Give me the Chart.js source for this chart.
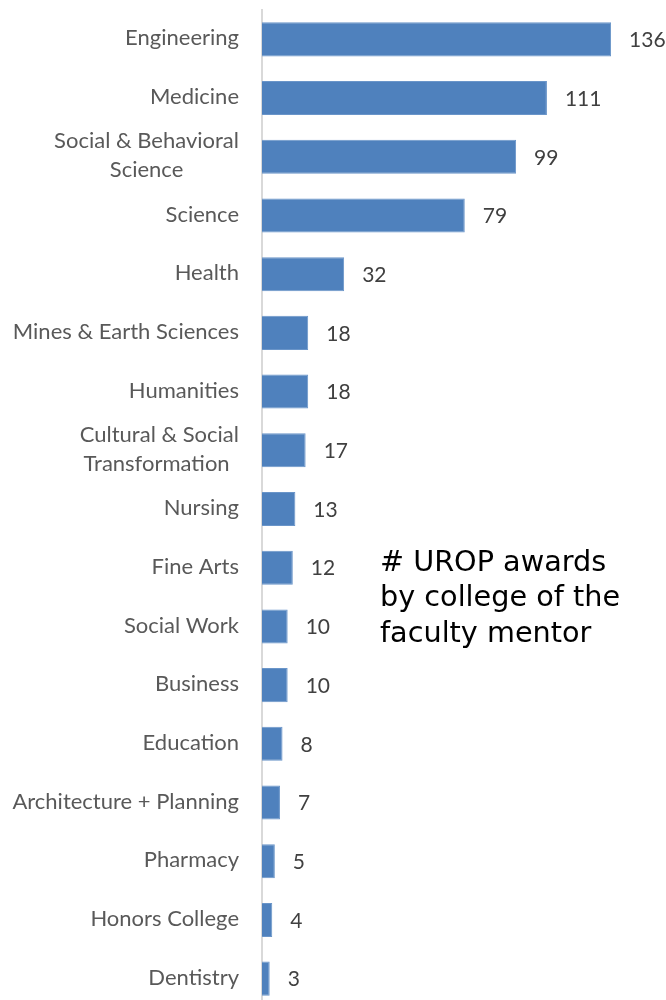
<!DOCTYPE html>
<html>
<head>
<meta charset="utf-8">
<script src="https://cdn.jsdelivr.net/npm/chart.js@4/dist/chart.umd.min.js"></script>
<style>
  html, body { margin: 0; padding: 0; background: #fff; overflow: hidden; }
  #wrap { width: 666px; height: 1008px; position: relative; }
</style>
</head>
<body>
<div id="wrap"><canvas id="awardsChart"></canvas></div>
<script>
// colleges, top to bottom
const colleges = [
  'Engineering', 'Medicine', ['Social & Behavioral', 'Science'], 'Science', 'Health',
  'Mines & Earth Sciences', 'Humanities', ['Cultural & Social', 'Transformation '],
  'Nursing', 'Fine Arts', 'Social Work', 'Business', 'Education',
  'Architecture + Planning', 'Pharmacy', 'Honors College', 'Dentistry'
];
const awards = [136, 111, 99, 79, 32, 18, 18, 17, 13, 12, 10, 10, 8, 7, 5, 4, 3];
const noteLines = ['# UROP awards', 'by college of the', 'faculty mentor'];

const labelFont = '22px Lato, "Open Sans", sans-serif';
const valueFont = '21px Lato, "Open Sans", sans-serif';

// category labels: block right-aligned, multi-line centred inside the block
const categoryLabels = {
  id: 'categoryLabels',
  afterDraw(chart) {
    const ctx = chart.ctx;
    const y = chart.scales.y;
    ctx.save();
    ctx.font = labelFont;
    ctx.fillStyle = '#595959';
    ctx.textBaseline = 'middle';
    ctx.textAlign = 'center';
    colleges.forEach((lab, i) => {
      const lines = Array.isArray(lab) ? lab : [lab];
      const w = Math.max(...lines.map(l => ctx.measureText(l).width));
      const cx = 239 - w / 2;
      const cy = y.getPixelForValue(i);
      const lh = 29;
      lines.forEach((l, k) => {
        ctx.fillText(l, cx, cy + (k - (lines.length - 1) / 2) * lh - 1);
      });
    });
    ctx.restore();
  }
};

// value labels next to the bars
const valueLabels = {
  id: 'valueLabels',
  afterDatasetsDraw(chart) {
    const ctx = chart.ctx;
    const meta = chart.getDatasetMeta(0);
    ctx.save();
    ctx.font = valueFont;
    ctx.fillStyle = '#404040';
    ctx.textBaseline = 'middle';
    ctx.textAlign = 'left';
    meta.data.forEach((bar, i) => {
      ctx.fillText(String(awards[i]), bar.x + 18, bar.y + 1);
    });
    ctx.restore();
  }
};

// the note in the empty space
const noteText = {
  id: 'noteText',
  afterDraw(chart) {
    const ctx = chart.ctx;
    ctx.save();
    let size = 28;
    ctx.font = size + 'px "DejaVu Sans", sans-serif';
    const w = ctx.measureText(noteLines[1]).width;
    size = size * 240 / w;
    ctx.font = size.toFixed(1) + 'px "DejaVu Sans", sans-serif';
    ctx.fillStyle = '#000';
    ctx.textAlign = 'left';
    ctx.textBaseline = 'alphabetic';
    const base = [571, 606, 642];
    noteLines.forEach((l, k) => ctx.fillText(l, 380, base[k]));
    ctx.restore();
  }
};

const ctx = document.getElementById('awardsChart').getContext('2d');
const awardsChart = new Chart(ctx, {
  type: 'bar',
  data: {
    labels: colleges,
    datasets: [{
      data: awards,
      backgroundColor: '#4F81BD',
      borderColor: '#6A95C9',
      borderWidth: 1,
      barPercentage: 0.58,
      categoryPercentage: 1
    }]
  },
  options: {
    indexAxis: 'y',
    responsive: true,
    maintainAspectRatio: false,
    animation: false,
    layout: {
      padding: { top: 10, bottom: 0, left: 0, right: 19 }
    },
    scales: {
      x: {
        display: false,
        min: 0,
        max: 150
      },
      y: {
        grid: { display: false },
        border: { color: '#D9D9D9', width: 2 },
        ticks: { display: false },
        afterFit(scale) {
          scale.width = 262;
        }
      }
    },
    plugins: {
      legend: { display: false },
      tooltip: { enabled: false }
    }
  },
  plugins: [categoryLabels, valueLabels, noteText]
});
</script>
</body>
</html>
